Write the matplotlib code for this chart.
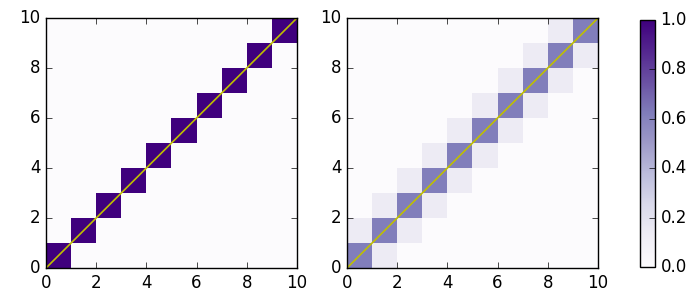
import numpy as np
import matplotlib
matplotlib.use('Agg')
from matplotlib import pyplot as plt

plt.style.use('classic')

n = 10
diag_left = [1.0] * n
diag_right = [0.62] * n
offdiag_right = [0.14] * (n - 1)

left = np.diag(diag_left)
right = np.diag(diag_right) + np.diag(offdiag_right, 1) + np.diag(offdiag_right, -1)

fig = plt.figure(figsize=(6.91, 2.97), dpi=100)
W, H = 691.0, 297.0
ax1 = fig.add_axes([46 / W, 1 - 268 / H, 251 / W, 250 / H])
ax2 = fig.add_axes([347 / W, 1 - 268 / H, 251 / W, 250 / H])
cax = fig.add_axes([640 / W, 1 - 267 / H, 15 / W, 247 / H])

for ax, m in [(ax1, left), (ax2, right)]:
    mesh = ax.pcolormesh(m, cmap='Purples', vmin=0, vmax=1)
    ax.plot([0, n], [0, n], color='y', lw=1.2)
    ax.set_xlim(0, n)
    ax.set_ylim(0, n)
    ax.set_xticks(range(0, 11, 2))
    ax.set_yticks(range(0, 11, 2))

cb = fig.colorbar(mesh, cax=cax)
cb.set_ticks([0.0, 0.2, 0.4, 0.6, 0.8, 1.0])

fig.savefig('out.png', dpi=100)
